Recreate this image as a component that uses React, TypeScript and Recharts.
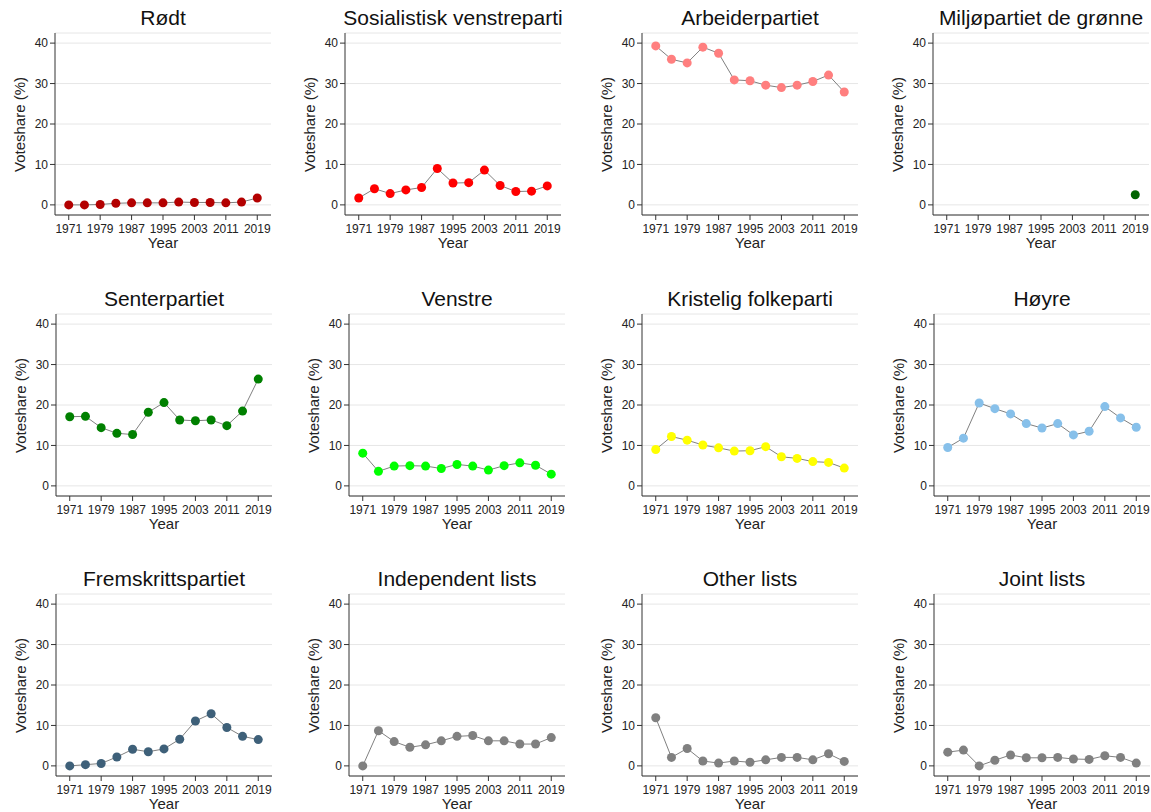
import { LineChart, Line, XAxis, YAxis, CartesianGrid } from 'recharts'

const YEARS = [1971, 1975, 1979, 1983, 1987, 1991, 1995, 1999, 2003, 2007, 2011, 2015, 2019]
const X_TICKS = [1971, 1979, 1987, 1995, 2003, 2011, 2019]
const Y_TICKS = [0, 10, 20, 30, 40]

const rodt = [0, 0, 0.1, 0.4, 0.5, 0.5, 0.5, 0.7, 0.6, 0.6, 0.5, 0.7, 1.7]
const sv = [1.7, 4.0, 2.8, 3.7, 4.3, 9.0, 5.4, 5.5, 8.6, 4.8, 3.3, 3.4, 4.7]
const ap = [39.3, 36.0, 35.1, 39.0, 37.5, 30.9, 30.7, 29.6, 29.0, 29.6, 30.5, 32.1, 27.9]
const mdg = [null, null, null, null, null, null, null, null, null, null, null, null, 2.5]
const sp = [17.1, 17.2, 14.4, 13.0, 12.7, 18.2, 20.6, 16.3, 16.1, 16.3, 14.9, 18.5, 26.4]
const venstre = [8.1, 3.6, 4.9, 5.0, 4.9, 4.3, 5.3, 4.9, 3.9, 5.0, 5.7, 5.1, 2.9]
const krf = [9.0, 12.2, 11.3, 10.1, 9.4, 8.6, 8.7, 9.7, 7.2, 6.8, 6.0, 5.8, 4.4]
const hoyre = [9.5, 11.8, 20.5, 19.1, 17.8, 15.4, 14.3, 15.4, 12.6, 13.5, 19.6, 16.8, 14.5]
const frp = [0, 0.3, 0.6, 2.2, 4.1, 3.5, 4.2, 6.6, 11.1, 12.9, 9.5, 7.3, 6.5]
const independent = [0, 8.7, 6.0, 4.6, 5.2, 6.2, 7.3, 7.5, 6.2, 6.2, 5.4, 5.4, 7.0]
const other = [11.9, 2.1, 4.3, 1.2, 0.7, 1.2, 0.9, 1.5, 2.1, 2.1, 1.5, 3.0, 1.1]
const joint = [3.4, 3.9, 0, 1.4, 2.7, 2.0, 2.0, 2.1, 1.7, 1.6, 2.5, 2.1, 0.7]

const TITLES = [
  'Rødt', 'Sosialistisk venstreparti', 'Arbeiderpartiet', 'Miljøpartiet de grønne',
  'Senterpartiet', 'Venstre', 'Kristelig folkeparti', 'Høyre',
  'Fremskrittspartiet', 'Independent lists', 'Other lists', 'Joint lists',
]
const SERIES = [rodt, sv, ap, mdg, sp, venstre, krf, hoyre, frp, independent, other, joint]
const COLORS = [
  '#b30000', '#ff0000', '#ff7f7f', '#006400',
  '#008000', '#00ff00', '#ffff00', '#87c0ea',
  '#3e6079', '#808080', '#808080', '#808080',
]

// layout: left edge of each plot area, per row, and top of each row's plot area
const COL_X = [
  [55, 345, 642, 933],
  [56, 349, 642, 934],
  [56, 349, 642, 934],
]
const ROW_TOP = [33, 314, 594]
const PW = 216
const PH = 182
const FONT = 'Arial, "Liberation Sans", Helvetica, sans-serif'

function Panel({ title, values, color, x0, top }: {
  title: string; values: (number | null)[]; color: string; x0: number; top: number
}) {
  const data = YEARS.map((year, i) => ({ year, v: values[i] }))
  return (
    <>
      <div style={{
        position: 'absolute', left: x0 - 60, top: top - 26, width: PW + 120,
        textAlign: 'center', fontSize: 21, lineHeight: '21px', whiteSpace: 'nowrap', color: '#111',
      }}>{title}</div>
      <div style={{
        position: 'absolute', left: x0 - 36.5 - PH / 2, top: top + PH / 2 - 7.5, width: PH, height: 15,
        lineHeight: '15px', fontSize: 15, textAlign: 'center', transform: 'rotate(-90deg)', color: '#222',
        whiteSpace: 'nowrap',
      }}>Voteshare (%)</div>
      <div style={{
        position: 'absolute', left: x0, top: top + PH + 20, width: PW,
        textAlign: 'center', fontSize: 15, lineHeight: '15px', color: '#222',
      }}>Year</div>
      <div style={{ position: 'absolute', left: x0 - 60, top: top - 10 }}>
        <LineChart width={60 + PW + 4} height={10 + PH + 40} data={data}
          margin={{ top: 10, right: 4, bottom: 0, left: 0 }}>
          <CartesianGrid vertical={false} stroke="#e6e6e6" strokeWidth={1} />
          <XAxis dataKey="year" type="number" domain={[1967.5, 2022.5]} ticks={X_TICKS}
            height={40} tickSize={5} tickMargin={4} interval={0}
            stroke="#333" tick={{ fontSize: 12, fill: '#222', fontFamily: FONT }} />
          <YAxis type="number" domain={[-2.5, 42.5]} ticks={Y_TICKS} width={60}
            tickSize={5} tickMargin={2} interval={0}
            stroke="#333" tick={{ fontSize: 12, fill: '#222', fontFamily: FONT }} />
          <Line dataKey="v" stroke="#808080" strokeWidth={1} isAnimationActive={false}
            dot={{ r: 4.5, fill: color, stroke: color, strokeWidth: 0 }} activeDot={false} />
        </LineChart>
      </div>
    </>
  )
}

export default function App() {
  return (
    <div style={{
      position: 'absolute', left: 0, top: 0, width: 1151, height: 812, overflow: 'hidden',
      background: '#fff', fontFamily: FONT,
    }}>
      {TITLES.map((t, i) => {
        const row = Math.floor(i / 4)
        const col = i % 4
        return (
          <Panel key={t} title={t} values={SERIES[i]} color={COLORS[i]}
            x0={COL_X[row][col]} top={ROW_TOP[row]} />
        )
      })}
    </div>
  )
}
